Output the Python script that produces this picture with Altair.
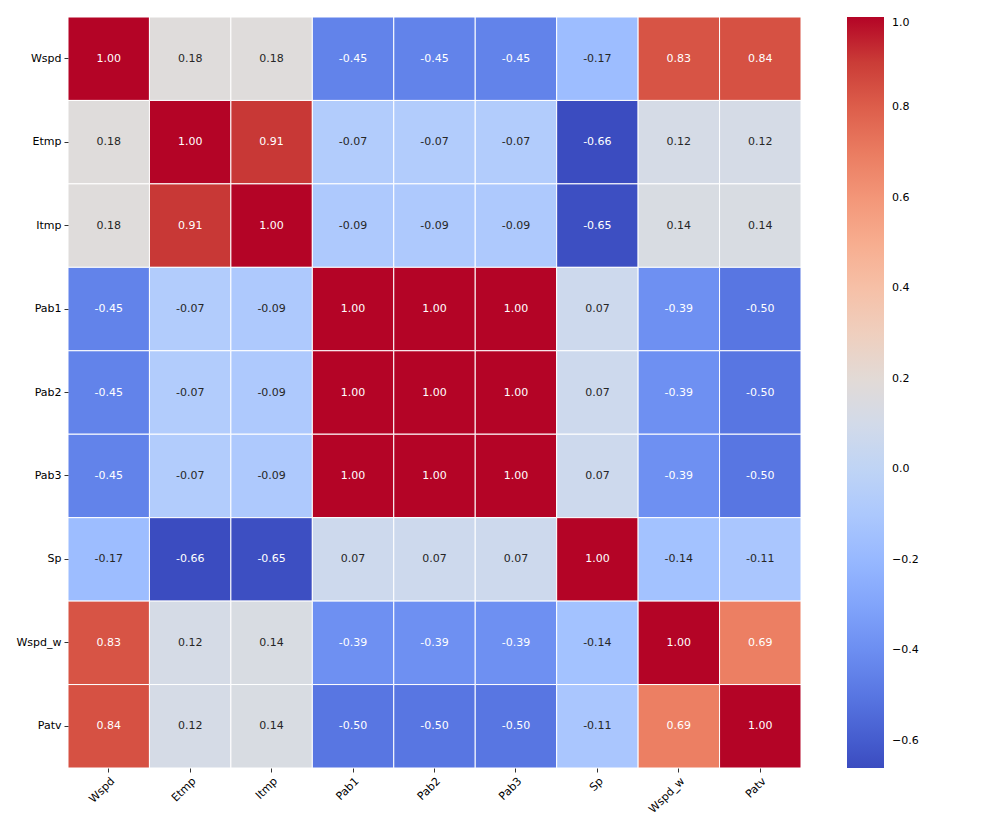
import altair as alt
import pandas as pd

labels = ["Wspd", "Etmp", "Itmp", "Pab1", "Pab2", "Pab3", "Sp", "Wspd_w", "Patv"]

row_Wspd = [1.00, 0.18, 0.18, -0.45, -0.45, -0.45, -0.17, 0.83, 0.84]
row_Etmp = [0.18, 1.00, 0.91, -0.07, -0.07, -0.07, -0.66, 0.12, 0.12]
row_Itmp = [0.18, 0.91, 1.00, -0.09, -0.09, -0.09, -0.65, 0.14, 0.14]
row_Pab1 = [-0.45, -0.07, -0.09, 1.00, 1.00, 1.00, 0.07, -0.39, -0.50]
row_Pab2 = [-0.45, -0.07, -0.09, 1.00, 1.00, 1.00, 0.07, -0.39, -0.50]
row_Pab3 = [-0.45, -0.07, -0.09, 1.00, 1.00, 1.00, 0.07, -0.39, -0.50]
row_Sp = [-0.17, -0.66, -0.65, 0.07, 0.07, 0.07, 1.00, -0.14, -0.11]
row_Wspd_w = [0.83, 0.12, 0.14, -0.39, -0.39, -0.39, -0.14, 1.00, 0.69]
row_Patv = [0.84, 0.12, 0.14, -0.50, -0.50, -0.50, -0.11, 0.69, 1.00]

matrix = [row_Wspd, row_Etmp, row_Itmp, row_Pab1, row_Pab2, row_Pab3,
          row_Sp, row_Wspd_w, row_Patv]

# matplotlib "coolwarm" colour stops
coolwarm = [
    (59, 76, 192), (68, 90, 204), (77, 104, 215), (87, 117, 225), (98, 130, 234),
    (108, 142, 241), (119, 154, 247), (130, 165, 251), (141, 176, 254),
    (152, 185, 255), (163, 194, 255), (174, 201, 253), (184, 208, 249),
    (194, 213, 244), (204, 217, 238), (213, 219, 230), (221, 221, 221),
    (229, 216, 209), (236, 211, 197), (241, 204, 184), (245, 196, 172),
    (247, 187, 160), (247, 177, 148), (247, 166, 135), (244, 154, 123),
    (241, 141, 111), (236, 127, 99), (229, 112, 88), (222, 96, 77),
    (213, 80, 66), (203, 62, 56), (192, 40, 47), (180, 4, 38),
]
vmin, vmax = -0.66, 1.0
n = len(coolwarm)
dom = [vmin + (vmax - vmin) * i / (n - 1) for i in range(n)]
rng = ["#%02x%02x%02x" % c for c in coolwarm]

records = []
for r, name in enumerate(labels):
    for c, col in enumerate(labels):
        v = matrix[r][c]
        records.append({"row": name, "col": col, "value": v, "label": f"{v:.2f}"})
df = pd.DataFrame(records)

x = alt.X("col:N", sort=labels, title=None,
          axis=alt.Axis(labelAngle=-45, labelAlign="right", labelBaseline="top",
                        labelFontSize=11, labelFont="DejaVu Sans", labelColor="black",
                        tickSize=4, tickColor="#333", domain=False, labelPadding=3))
y = alt.Y("row:N", sort=labels, title=None,
          axis=alt.Axis(labelFontSize=11, labelFont="DejaVu Sans", labelColor="black",
                        tickSize=4, tickColor="#333", domain=False, labelPadding=3))

base = alt.Chart(df).encode(x=x, y=y)

rects = base.mark_rect(stroke="white", strokeWidth=1).encode(
    color=alt.Color("value:Q",
                    scale=alt.Scale(domain=dom, range=rng, interpolate="rgb"),
                    legend=alt.Legend(title=None, gradientLength=751, gradientThickness=37,
                                      offset=46, labelFontSize=11, labelFont="DejaVu Sans",
                                      labelColor="black", labelOffset=8,
                                      gradientStrokeWidth=0,
                                      values=[-0.6, -0.4, -0.2, 0.0, 0.2, 0.4, 0.6, 0.8, 1.0],
                                      format=".1f", direction="vertical"))
)

text = base.mark_text(fontSize=11, font="DejaVu Sans").encode(
    text="label:N",
    color=alt.condition("datum.value < -0.3 || datum.value > 0.5",
                        alt.value("white"), alt.value("#262626")),
)

chart = (rects + text).properties(
    width=733, height=751,
    padding={"left": 60, "top": 9, "right": 180, "bottom": 54},
    autosize=alt.AutoSizeParams(type="none"),
).configure_view(stroke=None).configure_scale(bandPaddingInner=0, bandPaddingOuter=0)

chart.save("out.html", embed_options={"renderer": "svg", "actions": False})
